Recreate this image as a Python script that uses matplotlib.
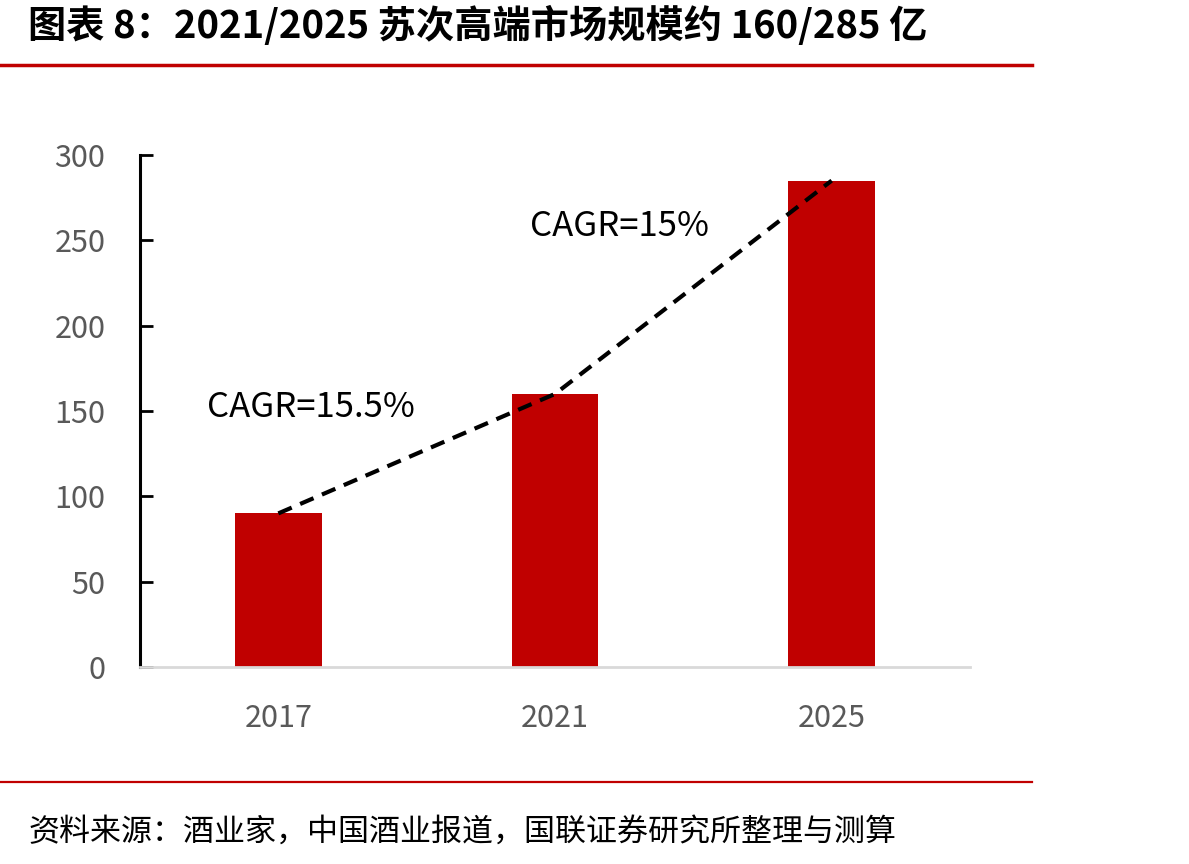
"""苏次高端市场规模柱状图 (2017/2021/2025)."""

import matplotlib
matplotlib.use("Agg")
from matplotlib import pyplot as plt
from matplotlib.lines import Line2D

plt.rcParams['font.family'] = ['Noto Sans CJK SC', 'DejaVu Sans']

# data
years = ['2017', '2021', '2025']
market_size = [90, 160, 285]
cagr_labels = ['CAGR=15.5%', 'CAGR=15%']
y_ticks = [0, 50, 100, 150, 200, 250, 300]

title = '图表 8：2021/2025 苏次高端市场规模约 160/285 亿'
source = '资料来源：酒业家，中国酒业报道，国联证券研究所整理与测算'

red = '#c00000'
gray = '#595959'

fig = plt.figure(figsize=(11.89, 8.64), dpi=100)
ax = fig.add_axes([140/1189, 1 - 667/864, 830/1189, 512/864])

x = range(len(years))
ax.bar(x, market_size, width=0.314, color=red, zorder=2)
ax.plot(x, market_size, color='black', linestyle=(0, (3.5, 2.2)), linewidth=3, zorder=3)

ax.set_xlim(-0.5, 2.5)
ax.set_ylim(0, 300)
ax.set_xticks(list(x))
ax.set_xticklabels(years)
ax.set_yticks(y_ticks)

for side in ['top', 'right']:
    ax.spines[side].set_visible(False)
ax.spines['left'].set_color('black')
ax.spines['left'].set_linewidth(2.2)
ax.spines['bottom'].set_color('#d9d9d9')
ax.spines['bottom'].set_linewidth(2)

ax.tick_params(axis='y', direction='in', length=9, width=2, color='black',
               labelsize=22, labelcolor=gray, pad=25)
ax.tick_params(axis='x', length=0, labelsize=22, labelcolor=gray, pad=26)

# CAGR annotations
ax.text(-0.258, 152, cagr_labels[0], fontsize=25, va='center', ha='left')
ax.text(0.908, 258, cagr_labels[1], fontsize=25, va='center', ha='left')

# title, rules and source
fig.text(28/1189, 1 - 26/864, title, fontsize=27.5, fontweight='bold', va='center', ha='left')
fig.add_artist(Line2D([0, 1032/1189], [1 - 65/864] * 2, color=red, linewidth=2.5))
fig.add_artist(Line2D([0, 1032/1189], [1 - 782/864] * 2, color=red, linewidth=1.6))
fig.text(28/1189, 1 - 832/864, source, fontsize=22.3, va='center', ha='left')

fig.savefig('out.png', dpi=100)
